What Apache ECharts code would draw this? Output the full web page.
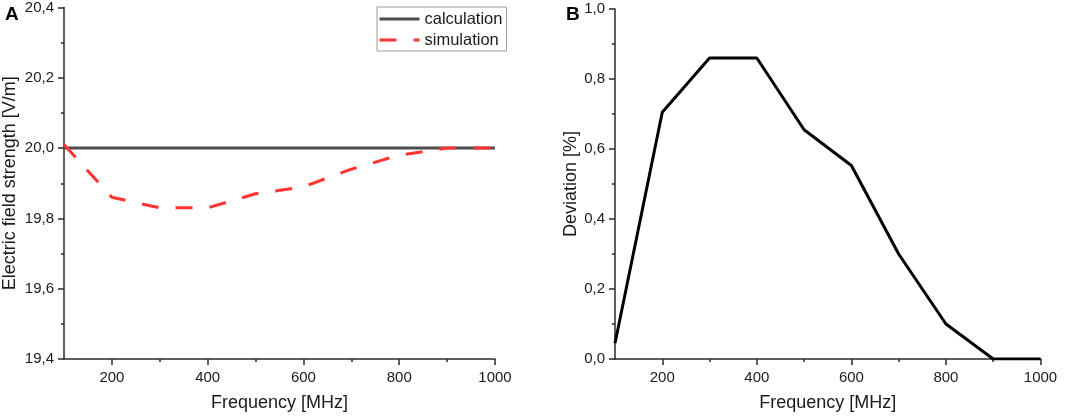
<!DOCTYPE html>
<html>
<head>
<meta charset="utf-8">
<script src="https://cdn.jsdelivr.net/npm/echarts@6/dist/echarts.min.js"></script>
<style>
html,body{margin:0;padding:0;background:#fff;}
#c{width:1065px;height:417px;}
</style>
</head>
<body>
<div id="c"></div>
<script>
const frequency = [100, 200, 300, 400, 500, 600, 700, 800, 900, 1000];
const calculation = [20.0, 20.0, 20.0, 20.0, 20.0, 20.0, 20.0, 20.0, 20.0, 20.0];
const simulation = [20.01, 19.86, 19.83, 19.83, 19.87, 19.89, 19.94, 19.98, 20.0, 20.0];
const deviation = [0.045, 0.705, 0.86, 0.86, 0.655, 0.553, 0.30, 0.10, 0.0, 0.0];
const xMajorTicks = [200, 400, 600, 800, 1000];
const xMinorTicks = [300, 500, 700, 900];

const FONT = '"Liberation Sans", Arial, sans-serif';
const TXT = '#1a1a1a';
const AX = '#2a2a2a';
const comma = v => v.toFixed(1).replace('.', ',');
const plain = v => String(v);
const pairs = (ys) => frequency.map((f, i) => [f, ys[i]]);

function xAxisMain(gi) {
  return {
    type: 'value', gridIndex: gi, min: 100, max: 1000,
    name: 'Frequency [MHz]', nameLocation: 'middle', nameGap: 35,
    nameTextStyle: { fontFamily: FONT, fontSize: 18, color: TXT },
    axisLine: { show: true, onZero: false, lineStyle: { color: AX, width: 1.5 } },
    axisTick: { show: true, customValues: xMajorTicks, length: 6, lineStyle: { color: AX, width: 1.5 } },
    axisLabel: { customValues: xMajorTicks, formatter: plain, fontFamily: FONT, fontSize: 15, color: TXT, margin: 11 },
    splitLine: { show: false }
  };
}
function xAxisMinor(gi) {
  return {
    type: 'value', gridIndex: gi, min: 100, max: 1000, position: 'bottom',
    axisLine: { show: false, onZero: false },
    axisTick: { show: true, customValues: xMinorTicks, length: 3, lineStyle: { color: AX, width: 1.5 } },
    axisLabel: { show: false },
    splitLine: { show: false }
  };
}
function yAxis(gi, min, max, name, gap) {
  return {
    type: 'value', gridIndex: gi, min: min, max: max, interval: 0.2,
    name: name, nameLocation: 'middle', nameGap: gap,
    nameTextStyle: { fontFamily: FONT, fontSize: 18, color: TXT },
    axisLine: { show: true, onZero: false, lineStyle: { color: AX, width: 1.5 } },
    axisTick: { show: true, length: 6, lineStyle: { color: AX, width: 1.5 } },
    minorTick: { show: true, splitNumber: 2, length: 3, lineStyle: { color: AX, width: 1.5 } },
    axisLabel: { fontFamily: FONT, fontSize: 15, color: TXT, margin: 10, formatter: comma },
    splitLine: { show: false }
  };
}

const chart = echarts.init(document.getElementById('c'), null, { renderer: 'canvas' });
chart.setOption({
  backgroundColor: '#ffffff',
  animation: false,
  title: [
    { text: 'A', left: 0, top: 0, textStyle: { fontFamily: FONT, fontSize: 19, fontWeight: 'bold', color: '#000' } },
    { text: 'B', left: 561, top: 0, textStyle: { fontFamily: FONT, fontSize: 19, fontWeight: 'bold', color: '#000' } }
  ],
  grid: [
    { left: 63, right: 570, top: 7, bottom: 57 },
    { left: 615, right: 24.5, top: 9, bottom: 58 }
  ],
  legend: {
    data: ['calculation', 'simulation'],
    orient: 'vertical', left: 377, top: 7,
    itemWidth: 40, itemHeight: 14, itemGap: 3,
    padding: [3, 4, 2, 1],
    borderColor: '#9a9a9a', borderWidth: 1,
    itemStyle: { opacity: 0 },
    lineStyle: { width: 3 },
    textStyle: { fontFamily: FONT, fontSize: 16.5, color: TXT, lineHeight: 18 }
  },
  xAxis: [xAxisMain(0), xAxisMinor(0), xAxisMain(1), xAxisMinor(1)],
  yAxis: [
    yAxis(0, 19.4, 20.4, 'Electric field strength [V/m]', 45),
    yAxis(1, 0, 1.0, 'Deviation [%]', 35)
  ],
  series: [
    { name: 'calculation', type: 'line', xAxisIndex: 0, yAxisIndex: 0, data: pairs(calculation),
      symbol: 'none', lineStyle: { color: '#4d4d4d', width: 3 }, itemStyle: { color: '#4d4d4d' } },
    { name: 'simulation', type: 'line', xAxisIndex: 0, yAxisIndex: 0, data: pairs(simulation),
      symbol: 'none', lineStyle: { color: '#ff3333', width: 3, type: [17, 17] }, itemStyle: { color: '#ff3333' } },
    { name: 'deviation', type: 'line', xAxisIndex: 2, yAxisIndex: 1, data: pairs(deviation),
      symbol: 'none', lineStyle: { color: '#000', width: 3 }, itemStyle: { color: '#000' } }
  ]
});
</script>
</body>
</html>
